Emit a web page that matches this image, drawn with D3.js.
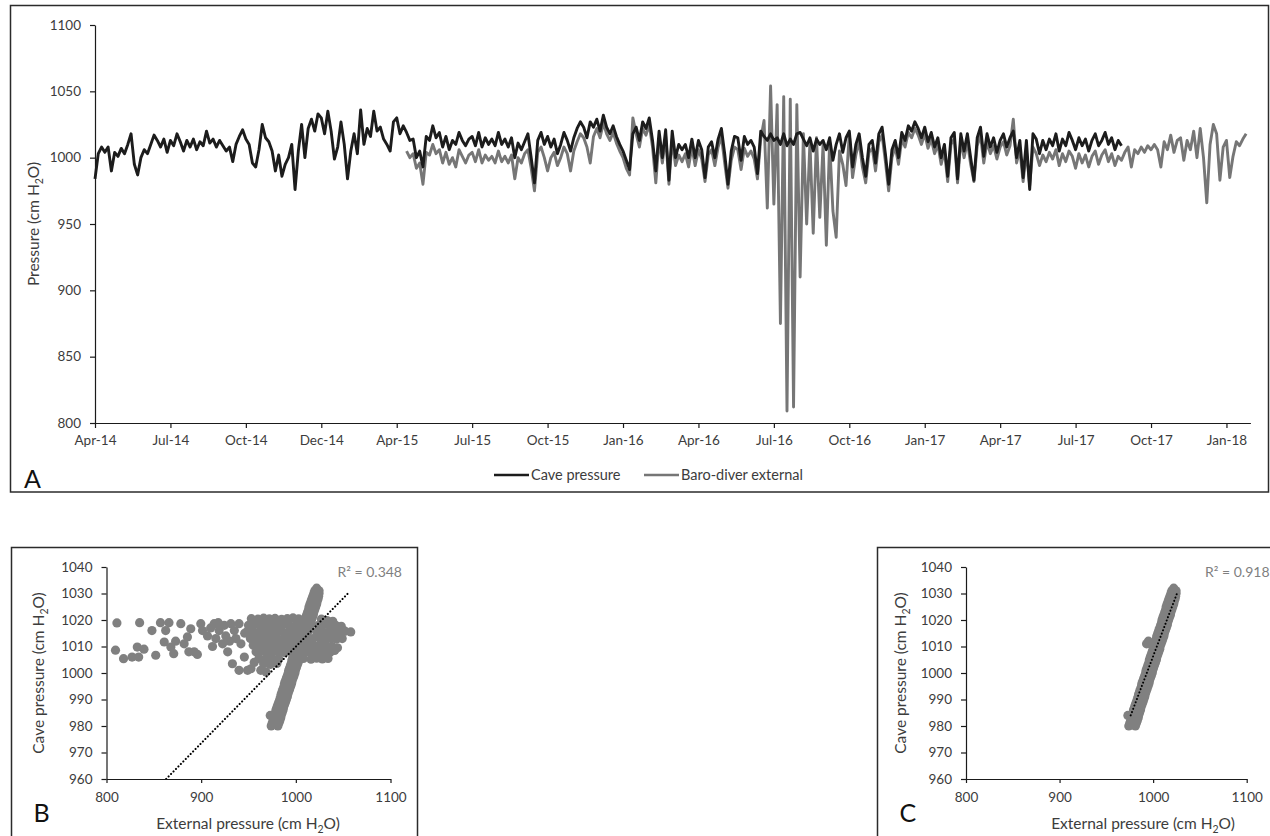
<!DOCTYPE html>
<html>
<head>
<meta charset="utf-8">
<script src="https://cdn.jsdelivr.net/npm/d3@7"></script>
<style>
  body { margin: 0; background: #fff; }
  svg text { font-family: Lato, 'Open Sans', sans-serif; }
</style>
</head>
<body>
<svg id="fig" width="1270" height="836"></svg>
<script>
'use strict';

// time axis: Excel category axis, one label every 23 samples
var tickLabels = ['Apr-14', 'Jul-14', 'Oct-14', 'Dec-14', 'Apr-15', 'Jul-15', 'Oct-15', 'Jan-16',
  'Apr-16', 'Jul-16', 'Oct-16', 'Jan-17', 'Apr-17', 'Jul-17', 'Oct-17', 'Jan-18'];
var samplesPerTick = 23;
var sampleCount = 352.3;
var pressureTicks = [800, 850, 900, 950, 1000, 1050, 1100];

var cavePressure = [
  984, 1003, 1008, 1004, 1008, 990, 1004, 1001, 1007, 1003,
  1010, 1018, 995, 987, 1000, 1006, 1003, 1010, 1017, 1013,
  1008, 1014, 1004, 1013, 1009, 1018, 1012, 1005, 1013, 1008,
  1014, 1006, 1012, 1009, 1020, 1011, 1014, 1008, 1013, 1009,
  1005, 1008, 997, 1010, 1016, 1021, 1014, 1010, 996, 993,
  1006, 1025, 1015, 1012, 1005, 990, 1002, 986, 995, 1000,
  1010, 976, 1005, 1025, 1000, 1022, 1029, 1020, 1033, 1030,
  1018, 1035, 1020, 999, 1008, 1027, 1010, 984, 1005, 1018,
  1003, 1036, 1010, 1022, 1016, 1035, 1020, 1023, 1014,
  1010, 1005, 1027, 1030, 1018, 1024, 1019, 1013, 1014, 1000,
  1005, 993, 1016, 1013, 1024, 1015, 1019, 1008, 1016, 1006,
  1013, 1010, 1019, 1013, 1009, 1014, 1016, 1009, 1019, 1008,
  1015, 1010, 1014, 1009, 1019, 1010, 1014, 1008, 1015, 1000,
  1011, 1006, 1012, 1018, 1000, 981, 1013, 1019, 1010, 1016,
  1008, 1014, 1003, 1010, 1019, 1013, 1005, 1015, 1022, 1027,
  1023, 1015, 1027, 1023, 1029, 1020, 1032, 1023, 1018, 1024,
  1016, 1010, 1005, 998, 991, 1018, 1023, 1013, 1027, 1022,
  1030, 1013, 990, 1020, 1000,
  1021, 983, 1020, 1000, 1010, 1006, 1010, 1000, 1014, 1000,
  1013, 1006, 985, 1008, 1012, 1000, 1014, 1022, 1003, 980,
  1005, 1016, 1015, 998, 1016, 1010, 1013, 1008, 988, 1020,
  1016, 1013, 1018, 1013, 1015, 1010, 1018, 1009, 1014, 1010,
  1018, 1019, 1014, 1009, 1015, 1005, 1014, 1010, 1013, 1006,
  1015, 998, 1010, 1018, 1004, 1015, 1020, 993, 1010, 1018,
  1000, 986, 1010, 1013, 996, 1018, 1023, 1003, 980, 1006,
  1013, 1000, 1019, 1013, 1024, 1020, 1027, 1022, 1015, 1023,
  1012, 1019, 1008, 1015, 1000, 1010, 986, 1015,
  1019, 984, 1018, 1005, 1018, 1000, 983, 1015, 1023, 1001,
  1018, 1008, 1015, 1004, 1013, 1018, 1008, 1015, 1020, 1000,
  1013, 985, 1013, 976, 1018, 1014, 1003, 1013, 1006, 1014,
  1009, 1018, 1005, 1014, 1009, 1019, 1013, 1006, 1015, 1009,
  1014, 1005, 1013, 1018, 1009, 1013, 1019, 1010, 1015, 1006,
  1013, 1009
];

var baroStart = 95;
var baroExternal = [
  1005, 1000, 1003, 992, 996, 980, 1004, 1002, 1010, 1003,
  1006, 996, 1004, 995, 1000, 993, 1006, 1001, 996, 1002,
  1004, 997, 1006, 996, 1002, 998, 1001, 996, 1005, 997,
  1001, 996, 1002, 984, 1000, 996, 1003, 1006, 992, 975,
  1004, 1008, 1000, 990, 1000, 1004, 994, 1000, 1008, 1003,
  990, 1005, 1012, 1018, 1015, 1008, 996, 1016, 1022, 1015,
  1026, 1018, 1013, 1019, 1011, 1005, 1000, 992, 987, 1030,
  1018, 1008, 1022, 1017, 1025, 1008, 981, 1014, 996,
  1016, 980, 1014, 994, 1002, 997, 1003, 993, 1008, 994,
  1006, 999, 982, 1002, 1006, 994, 1008, 1016, 996, 977,
  998, 1008, 1006, 991, 1007, 1001, 1005, 999, 984, 1014,
  1028, 962, 1054, 965, 1040, 875, 1046, 809, 1044, 812,
  1040, 910, 1018, 950, 1012, 943, 1015, 955, 1010, 934,
  1012, 960, 940, 1005,
  995, 979, 1018, 985, 1002, 1012, 993, 981, 1004, 1007,
  990, 1012, 1017, 997, 975, 1000, 1008, 995, 1014, 1008,
  1019, 1015, 1022, 1017, 1010, 1018, 1007, 1014, 1003, 1010,
  995, 1005, 982, 1010,
  1014, 981, 1013, 1000, 1012, 995, 982, 1009, 1017, 996,
  1012, 1003, 1009, 999, 1008, 1012, 1002, 1009, 1029, 996,
  1006, 982, 1005, 979, 1008, 1003, 994, 1002, 997, 1004,
  999, 1006, 994, 1003, 997, 1005, 1001, 992, 1003, 996,
  1002, 993, 1001, 1005, 995, 1002, 1006, 997, 1003, 994,
  1001, 998,
  1004, 1008, 993, 1006, 1003, 1008, 1004, 1009, 1006, 1010,
  1006, 993, 1012, 1006, 1017, 1004, 1013, 1015, 998, 1013,
  1006, 1020, 1000, 1022, 1000, 966, 1010, 1025, 1018, 983,
  1008, 1013, 985, 1001, 1012, 1009, 1014, 1018
];

// scatter panels: [external, cave]
var scatterXTicks = [800, 900, 1000, 1100];
var scatterYTicks = [960, 970, 980, 990, 1000, 1010, 1020, 1030, 1040];

var bandPoints = [
  [974, 980], [981, 980], [975, 981], [982, 981], [976, 982], [983, 982], [977, 983], [984, 983],
  [973, 984], [977.5, 984], [984.5, 984], [978.5, 985], [985.5, 985], [979, 986], [986.5, 986],
  [980, 987], [987, 987], [981, 988], [988, 988], [982, 989], [989, 989], [983, 990], [990, 990],
  [984, 991], [991, 991], [984.5, 992], [991.5, 992], [985.5, 993], [992.5, 993], [986.5, 994],
  [993.5, 994], [987.5, 995], [994.5, 995], [988, 996], [995.5, 996], [989, 997], [996, 997],
  [990, 998], [997, 998], [991, 999], [998, 999], [992, 1000], [999, 1000], [992.5, 1001],
  [999.5, 1001], [993.5, 1002], [1000.5, 1002], [994.5, 1003], [1001.5, 1003], [995.5, 1004],
  [1002.5, 1004], [996, 1005], [1003.5, 1005], [997, 1006], [1004, 1006], [998, 1007], [1005, 1007],
  [999, 1008], [1006, 1008], [1000, 1009], [1007, 1009], [1000.5, 1010], [1007.5, 1010],
  [993, 1011], [997, 1011], [1001.5, 1011], [1008.5, 1011], [995, 1012], [1002.5, 1012],
  [1009.5, 1012], [1003.5, 1013], [1010.5, 1013], [1004, 1014], [1011.5, 1014], [1005, 1015],
  [1012, 1015], [1006, 1016], [1013, 1016], [1007, 1017], [1014, 1017], [1008, 1018], [1015, 1018],
  [1009, 1019], [1015.5, 1019], [1009.5, 1020], [1016.5, 1020], [1010.5, 1021], [1017.5, 1021],
  [1011.5, 1022], [1018.5, 1022], [1012.5, 1023], [1019, 1023], [1013.5, 1024], [1020, 1024],
  [1014, 1025], [1021, 1025], [1015, 1026], [1022, 1026], [1016, 1027], [1022.5, 1027],
  [1017, 1028], [1023.5, 1028], [1018, 1029], [1024, 1029], [1019, 1030], [1024.5, 1030],
  [1020, 1031], [1024.5, 1031], [1022, 1032]
];

var anomalyPoints = [
  [809.5, 1008.6], [811, 1018.9], [818, 1005.4], [827, 1006], [832.5, 1009.8], [834, 1006],
  [835, 1019], [839.6, 1009], [848, 1016], [852, 1006.7], [857, 1019], [861, 1011.7],
  [862.5, 1016], [866, 1019], [868, 1009.8], [871, 1007.3], [873, 1012], [878.5, 1018.6],
  [882, 1011], [885.5, 1013.6], [887, 1008], [889, 1016.7], [892.6, 1008], [896, 1007],
  [899.6, 1018.6], [901.4, 1016], [906.7, 1014], [910, 1017], [912, 1010], [913.8, 1018.6],
  [915.5, 1013], [918, 1019], [919, 1016], [922.6, 1011], [924.4, 1018], [926, 1014], [928, 1008],
  [930, 1012], [931.4, 1018.6], [933, 1003.5], [935, 1016], [936.7, 1013], [940, 1001],
  [940, 1018.6], [942, 1011], [945.6, 1006], [946, 1015], [949, 1001], [952.6, 1001.6],
  [956, 1004], [963, 1001], [968.6, 1000.4],
  [953, 1020.5], [960, 1020.3], [966, 1020.7], [972, 1020.4], [978, 1020.6], [985, 1020.2],
  [991, 1020.5], [997, 1020.8], [1003, 1020.4], [1009, 1020.1], [1027, 1020.3], [1033, 1019.8],
  [1039, 1019.5],
  [950, 1018], [956, 1018.2], [962, 1017.8], [968, 1018.1], [975, 1018], [981, 1017.9],
  [987, 1018.3], [993, 1018], [999, 1017.7], [1005, 1018.2], [1024, 1018], [1030, 1018.3],
  [1036, 1017.8], [1042, 1018], [1048, 1017.6],
  [948, 1015.5], [954, 1015.7], [961, 1015.3], [967, 1015.6], [973, 1015.4], [979, 1015.5],
  [985, 1015.8], [991, 1015.2], [997, 1015.6], [1003, 1015.4], [1022, 1015.5], [1028, 1015.7],
  [1034, 1015.3], [1040, 1015.6], [1046, 1015.4], [1052, 1015.8], [1058, 1015.5],
  [952, 1013], [958, 1013.2], [964, 1012.8], [970, 1013.1], [976, 1013], [982, 1012.7],
  [988, 1013.2], [994, 1013], [1000, 1012.8], [1018, 1013], [1025, 1013.2], [1031, 1012.9],
  [1037, 1013.1], [1043, 1012.8], [1049, 1013],
  [955, 1010.5], [961, 1010.3], [967, 1010.7], [973, 1010.4], [979, 1010.6], [985, 1010.2],
  [991, 1010.5], [997, 1010.3], [1014, 1010.5], [1020, 1010.2], [1026, 1010.6], [1032, 1010.4],
  [1038, 1010.1], [1044, 1009.5],
  [958, 1008], [964, 1008.2], [970, 1007.8], [976, 1008.1], [982, 1008], [988, 1007.7],
  [993, 1008.2], [1012, 1008], [1018, 1007.8], [1024, 1008.2], [1030, 1008], [1036, 1007.7],
  [1041, 1008.5],
  [961, 1005.5], [968, 1005.3], [975, 1005.7], [982, 1005.4], [1008, 1005.5], [1016, 1005.2],
  [1022, 1005.6], [1028, 1005.3], [1034, 1005.5],
  [966, 1003.5], [973, 1003.2], [980, 1003.6]
];

var trendAll = [[863, 960], [1055, 1030]];
var trendBand = [[976, 984], [1026, 1030.5]];
var r2Labels = ['R\u00b2 = 0.348', 'R\u00b2 = 0.918'];

var INK = '#3c3c3c';
var AXIS = '#1a1a1a';
var TICK_FONT = 13.5;
var TITLE_FONT = 15.5;

var svg = d3.select('#fig');

function frame(x, y, w, h) {
  svg.append('rect')
    .attr('x', x)
    .attr('y', y)
    .attr('width', w)
    .attr('height', h)
    .attr('fill', 'none')
    .attr('stroke', '#2b2b2b')
    .attr('stroke-width', 1.5);
}

function styleAxis(g) {
  g.select('.domain').attr('stroke', AXIS).attr('stroke-width', 1.2);
  g.selectAll('.tick line').attr('stroke', AXIS).attr('stroke-width', 1.2);
  g.selectAll('.tick text')
    .attr('fill', INK)
    .style('font-size', TICK_FONT + 'px');
}

// text with subscript 2 in H2O
function h2oTitle(parent, pre, x, y, rotate) {
  var t = parent.append('text')
    .attr('text-anchor', 'middle')
    .attr('fill', INK)
    .style('font-size', TITLE_FONT + 'px')
    .attr('transform', 'translate(' + x + ',' + y + ')' + (rotate ? ' rotate(-90)' : ''));
  t.append('tspan').text(pre + 'H');
  t.append('tspan').attr('dy', 4).style('font-size', '10.5px').text('2');
  t.append('tspan').attr('dy', -4).text('O)');
  return t;
}

function panelLetter(s, x, y) {
  svg.append('text')
    .attr('x', x)
    .attr('y', y)
    .attr('fill', '#111')
    .style('font-size', '25px')
    .text(s);
}

// ---- panel A: time series ----
frame(10.5, 5.5, 1258, 486.5);

var xA = d3.scaleLinear().domain([0, sampleCount]).range([95, 1250.4]);
var yA = d3.scaleLinear().domain([800, 1100]).range([423, 25]);

svg.append('g')
  .attr('transform', 'translate(95,0)')
  .call(d3.axisLeft(yA).tickValues(pressureTicks).tickFormat(d3.format('d'))
    .tickSize(5).tickSizeOuter(0).tickPadding(9))
  .call(styleAxis);

svg.append('g')
  .attr('transform', 'translate(0,423)')
  .call(d3.axisBottom(xA)
    .tickValues(d3.range(0, tickLabels.length * samplesPerTick, samplesPerTick))
    .tickFormat(function(d, i) { return tickLabels[i]; })
    .tickSize(5).tickSizeOuter(0).tickPadding(7))
  .call(styleAxis);

var baroLine = d3.line()
  .x(function(d, i) { return xA(baroStart + i); })
  .y(function(d) { return yA(d); });
var caveLine = d3.line()
  .x(function(d, i) { return xA(i); })
  .y(function(d) { return yA(d); });

svg.append('path')
  .datum(baroExternal)
  .attr('d', baroLine)
  .attr('fill', 'none')
  .attr('stroke', '#767676')
  .attr('stroke-width', 2.9)
  .attr('stroke-linejoin', 'round');

svg.append('path')
  .datum(cavePressure)
  .attr('d', caveLine)
  .attr('fill', 'none')
  .attr('stroke', '#1c1c1c')
  .attr('stroke-width', 2.9)
  .attr('stroke-linejoin', 'round');

h2oTitle(svg, 'Pressure (cm ', 39, 224, true);

var legend = [
  { name: 'Cave pressure', color: '#1c1c1c', x: 494 },
  { name: 'Baro-diver external', color: '#767676', x: 644 }
];
var lg = svg.selectAll('g.legend')
  .data(legend)
  .enter()
  .append('g')
  .attr('class', 'legend')
  .attr('transform', function(d) { return 'translate(' + d.x + ',475)'; });
lg.append('line')
  .attr('x1', 0)
  .attr('x2', 35)
  .attr('stroke', function(d) { return d.color; })
  .attr('stroke-width', 2.6);
lg.append('text')
  .attr('x', 37)
  .attr('dy', '0.35em')
  .attr('fill', INK)
  .style('font-size', '14.5px')
  .text(function(d) { return d.name; });

panelLetter('A', 24, 488);

// ---- panels B and C: scatter ----
function scatter(o) {
  frame(o.left, 547.5, o.width, 300);

  var x = d3.scaleLinear().domain([800, 1100]).range([o.x0, o.x1]);
  var y = d3.scaleLinear().domain([960, 1040]).range([779, 567]);

  var g = svg.append('g');
  o.points.forEach(function(set) {
    g.selectAll(null)
      .data(set)
      .enter()
      .append('circle')
      .attr('cx', function(d) { return x(d[0]); })
      .attr('cy', function(d) { return y(d[1]); })
      .attr('r', 4.6)
      .attr('fill', '#808080');
  });

  svg.append('path')
    .datum(o.trend)
    .attr('d', d3.line()
      .x(function(d) { return x(d[0]); })
      .y(function(d) { return y(d[1]); }))
    .attr('fill', 'none')
    .attr('stroke', '#000')
    .attr('stroke-width', 2)
    .attr('stroke-linecap', 'round')
    .attr('stroke-dasharray', '0.1,3.4');

  svg.append('g')
    .attr('transform', 'translate(' + o.x0 + ',0)')
    .call(d3.axisLeft(y).tickValues(scatterYTicks).tickFormat(d3.format('d'))
      .tickSize(5).tickSizeOuter(0).tickPadding(9))
    .call(styleAxis);

  svg.append('g')
    .attr('transform', 'translate(0,779)')
    .call(d3.axisBottom(x).tickValues(scatterXTicks).tickFormat(d3.format('d'))
      .tickSize(4).tickSizeOuter(0).tickPadding(9))
    .call(styleAxis);

  h2oTitle(svg, 'Cave pressure (cm ', o.yTitleX, 673, true);
  h2oTitle(svg, 'External pressure (cm ', o.xTitleX, 829, false);

  svg.append('text')
    .attr('x', o.r2x)
    .attr('y', 577)
    .attr('text-anchor', o.r2anchor)
    .attr('fill', '#7f7f7f')
    .style('font-size', '14px')
    .text(o.r2);

  panelLetter(o.letter, o.left + 22, 822);
}

scatter({
  left: 11.5, width: 406, x0: 106.5, x1: 390.5,
  points: [anomalyPoints, bandPoints], trend: trendAll,
  yTitleX: 44, xTitleX: 248, r2: r2Labels[0], r2x: 402, r2anchor: 'end', letter: 'B'
});

scatter({
  left: 877.5, width: 400, x0: 966, x1: 1246.7,
  points: [bandPoints], trend: trendBand,
  yTitleX: 906, xTitleX: 1143, r2: r2Labels[1], r2x: 1205, r2anchor: 'start', letter: 'C'
});
</script>
</body>
</html>
